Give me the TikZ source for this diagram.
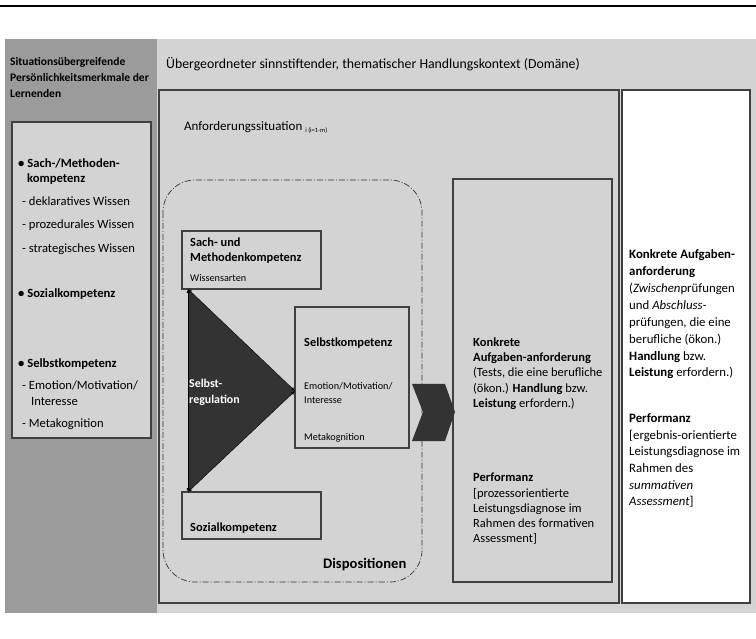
\documentclass[tikz,border=0pt]{standalone}
\usepackage{fontspec}
\setmainfont{Carlito}
\usepackage{tikz}
\usetikzlibrary{arrows}
\definecolor{panel}{HTML}{9B9B9B}
\definecolor{field}{HTML}{D3D3D3}
\definecolor{rim}{HTML}{404040}
\definecolor{ink}{HTML}{333333}

\begin{document}
\begin{tikzpicture} [x=1pt,y=-1pt,>=latex,
  box/.style={draw=rim,line width=1.1pt},
  txt/.style={anchor=base west,inner sep=0pt,font=\fontsize{12.6}{14}\selectfont},
  head/.style={anchor=base west,inner sep=0pt,font=\fontsize{12.4}{14}\selectfont\bfseries},
  small/.style={anchor=base west,inner sep=0pt,font=\fontsize{10.2}{12}\selectfont},
  mid/.style={anchor=base west,inner sep=0pt,font=\fontsize{12.5}{14}\selectfont},
  note/.style={anchor=base west,inner sep=0pt,font=\fontsize{12.8}{14}\selectfont}]
\useasboundingbox (0,0) rectangle (756,639);
\draw [line width=1.2pt](0,6) -- (756,6);
\fill [panel](5,39) rectangle (157,613);
\fill [field](157,39) rectangle (756,613);
\draw [box,fill=field](12,122) rectangle (151,438);
\draw [box](159,90) rectangle (619,603);
\draw [box,fill=white](622,90) rectangle (750,603);
\draw [ink,line width=0.7pt,dash pattern=on 6pt off 2pt on 1pt off 2pt,rounded corners=32pt](163,180) rectangle (422,582);
\draw [box](182,231) rectangle (321,289);
\draw [box](295,307) rectangle (409,448);
\draw [box](182,492) rectangle (321,539);
\draw [box](453,179) rectangle (612,582);
% Pfeil nach rechts
\fill [ink](412,384) -- (445,384) -- (455,412) -- (445,441) -- (412,441) -- (423,412) -- cycle;
% Dreieck Selbstregulation
\coordinate (regTop) at (188,289);
\coordinate (regTip) at (295,391);
\coordinate (regBot) at (188,492);
\fill [ink](regTop) -- (regTip) -- (regBot) -- cycle;
\draw [<->,thin](regTop) -- (regTip);
\draw [<->,thin](regTip) -- (regBot);
\draw [<->,thin](regTop) -- (regBot);
% linke Spalte
\node (pers1) [txt,font=\fontsize{11.5}{13}\selectfont\bfseries] at (10,66) {Situationsübergreifende};
\node (pers2) [txt,font=\fontsize{11.5}{13}\selectfont\bfseries] at (10,82) {Persönlichkeitsmerkmale der};
\node (pers3) [txt,font=\fontsize{11.5}{13}\selectfont\bfseries] at (10,98) {Lernenden};
\node (lsach1) [txt] at (18,168) {\textbf{• Sach-/Methoden-}};
\node (lsach2) [txt] at (27,183) {\textbf{kompetenz}};
\node (lwis1) [txt] at (22,206) {- deklaratives Wissen};
\node (lwis2) [txt] at (22,229) {- prozedurales Wissen};
\node (lwis3) [txt] at (22,253) {- strategisches Wissen};
\node (lsoz) [txt] at (18,298) {\textbf{• Sozialkompetenz}};
\node (lselbst) [txt] at (18,368) {\textbf{• Selbstkompetenz}};
\node (lemo1) [txt] at (22,389) {- Emotion/Motivation/};
\node (lemo2) [txt] at (31,406) {Interesse};
\node (lmeta) [txt] at (22,428) {- Metakognition};
% Kontext
\node (domain) [txt,font=\fontsize{13.8}{16}\selectfont] at (166,69) {Übergeordneter sinnstiftender, thematischer Handlungskontext (Domäne)};
\node (situation) [txt,font=\fontsize{13}{15}\selectfont] at (184,131) {Anforderungssituation {\fontsize{6.5}{7}\selectfont\raisebox{-2pt}{i (i=1-m)}}};
% Dispositionen
\node (sach1) [head] at (190,247) {Sach- und};
\node (sach2) [head] at (190,262) {Methodenkompetenz};
\node (sach3) [small] at (190,282) {Wissensarten};
\node (selbst1) [head] at (304,347) {Selbstkompetenz};
\node (selbst2) [small] at (304,389) {Emotion/Motivation/};
\node (selbst3) [small] at (304,403) {Interesse};
\node (selbst4) [small] at (304,441) {Metakognition};
\node (reg1) [txt,text=white,font=\fontsize{11.9}{13}\selectfont\bfseries] at (189,388) {Selbst-};
\node (reg2) [txt,text=white,font=\fontsize{11.9}{13}\selectfont\bfseries] at (189,403) {regulation};
\node (soz) [head] at (190,531) {Sozialkompetenz};
\node (dispo) [txt,font=\fontsize{14.6}{16}\selectfont\bfseries] at (323,568) {Dispositionen};
% formative Pruefung
\node (form1) [mid] at (473,347) {\textbf{Konkrete}};
\node (form2) [mid] at (473,362) {\textbf{Aufgaben-anforderung}};
\node (form3) [mid] at (473,377) {(Tests, die eine berufliche};
\node (form4) [mid] at (473,392) {(ökon.) \textbf{Handlung} bzw.};
\node (form5) [mid] at (473,407) {\textbf{Leistung} erfordern.)};
\node (form6) [mid] at (473,482) {\textbf{Performanz}};
\node (form7) [mid] at (473,497) {[prozessorientierte};
\node (form8) [mid] at (473,512) {Leistungsdiagnose im};
\node (form9) [mid] at (473,527) {Rahmen des formativen};
\node (form10) [mid] at (473,542) {Assessment]};
% summative Pruefung
\node (summ1) [note] at (629,259) {\textbf{Konkrete Aufgaben-}};
\node (summ2) [note] at (629,276) {\textbf{anforderung}};
\node (summ3) [note] at (629,293) {(\textit{Zwischen}prüfungen};
\node (summ4) [note] at (629,310) {und \textit{Abschluss-}};
\node (summ5) [note] at (629,327) {prüfungen, die eine};
\node (summ6) [note] at (629,344) {berufliche (ökon.)};
\node (summ7) [note] at (629,361) {\textbf{Handlung} bzw.};
\node (summ8) [note] at (629,377) {\textbf{Leistung} erfordern.)};
\node (summ9) [note] at (629,422) {\textbf{Performanz}};
\node (summ10) [note] at (629,439) {[ergebnis-orientierte};
\node (summ11) [note] at (629,455) {Leistungsdiagnose im};
\node (summ12) [note] at (629,472) {Rahmen des};
\node (summ13) [note] at (629,489) {\textit{summativen}};
\node (summ14) [note] at (629,505) {\textit{Assessment}]};
\end{tikzpicture}
\end{document}
